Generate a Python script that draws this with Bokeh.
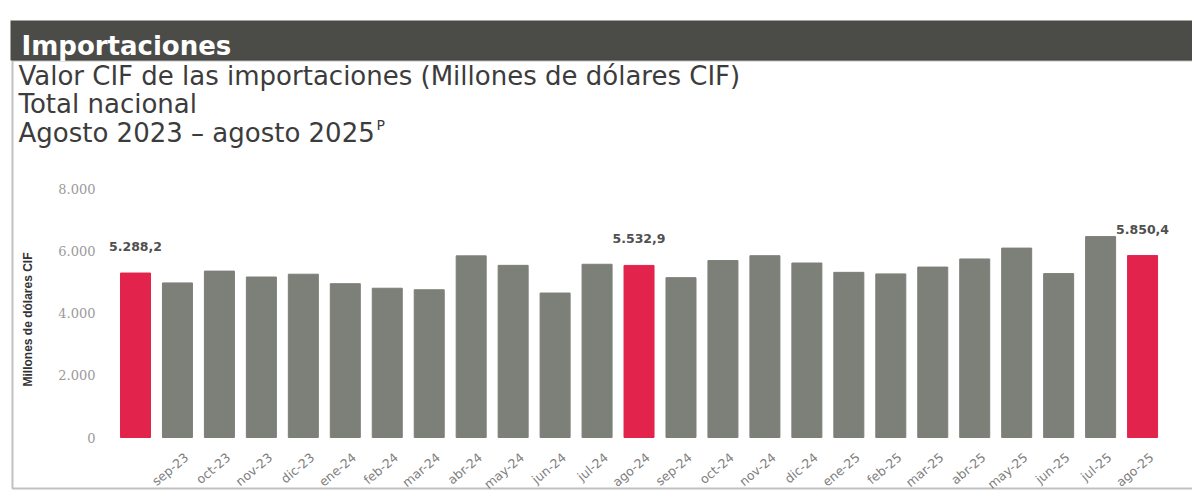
from bokeh.plotting import figure
from bokeh.models import ColumnDataSource, Label, LabelSet, BoxAnnotation, Range1d
from bokeh.core.properties import value
from bokeh.embed import file_html
from bokeh.resources import INLINE
import math

months = ["ago-23", "sep-23", "oct-23", "nov-23", "dic-23", "ene-24", "feb-24", "mar-24",
          "abr-24", "may-24", "jun-24", "jul-24", "ago-24", "sep-24", "oct-24", "nov-24",
          "dic-24", "ene-25", "feb-25", "mar-25", "abr-25", "may-25", "jun-25", "jul-25", "ago-25"]
valores = [5288.2, 4970, 5350, 5160, 5250, 4945, 4800, 4750,
           5840, 5535, 4645, 5570, 5532.9, 5140, 5690, 5845,
           5610, 5310, 5260, 5480, 5740, 6090, 5270, 6460, 5850.4]
destacados = ["ago-23", "ago-24", "ago-25"]
x_labels = [""] + months[1:]          # first month's label is not shown in the source
y_ticks = [0, 2000, 4000, 6000, 8000]
y_tick_labels = ["0", "2.000", "4.000", "6.000", "8.000"]

GRAY = "#7d7f79"
RED = "#e2244d"
DARK = "#4b4b48"
TEXT = "#3c3c3c"


def fmt(v):
    s = f"{v:,.1f}"
    return s.replace(",", "X").replace(".", ",").replace("X", ".")


idx = list(range(len(months)))
colors = [RED if m in destacados else GRAY for m in months]
src = ColumnDataSource(dict(i=idx, m=months, v=valores, c=colors, xl=x_labels,
                            zero=[0] * len(months)))
lab_src = ColumnDataSource(dict(
    i=[i for i, m in zip(idx, months) if m in destacados],
    v=[v for m, v in zip(months, valores) if m in destacados],
    t=[fmt(v) for m, v in zip(months, valores) if m in destacados],
))
tick_src = ColumnDataSource(dict(y=y_ticks, t=y_tick_labels))

W, H = 1192, 497
p = figure(width=W, height=H, x_range=Range1d(-3.217, 25.19), y_range=Range1d(-1929, 14051),
           output_backend="svg", toolbar_location=None,
           x_axis_location=None, y_axis_location=None,
           min_border=0, min_border_left=0, min_border_right=0,
           min_border_top=0, min_border_bottom=0)
p.title.visible = False
p.outline_line_color = None
p.grid.visible = False

# bars
p.vbar(x="i", top="v", width=0.715, color="c", source=src)

# value labels on highlighted bars
p.add_layout(LabelSet(x="i", y="v", text="t", source=lab_src, y_offset=22,
                      text_align="center", text_baseline="bottom",
                      text_font=value("DejaVu Sans"), text_font_size="12.5px",
                      text_font_style="bold", text_color="#505050"))

# category labels (x axis)
p.add_layout(LabelSet(x="i", y="zero", text="xl", source=src, x_offset=9, y_offset=-18,
                      angle=0.70, text_align="right", text_baseline="middle",
                      text_font=value("DejaVu Sans"), text_font_size="12.5px",
                      text_color="#808080"))

# value axis labels
p.add_layout(LabelSet(x=95, y="y", text="t", source=tick_src, x_units="screen",
                      text_align="right", text_baseline="middle",
                      text_font=value("DejaVu Serif"), text_font_size="13px",
                      text_color="#9a9a9a"))
p.add_layout(Label(x=27, y=178, x_units="screen", y_units="screen",
                   text="Millones de dólares CIF", angle=math.pi / 2,
                   text_align="center", text_baseline="middle",
                   text_font="Liberation Sans", text_font_style="bold",
                   text_font_size="12px", text_color="#333333"))

# header band and frame box
p.add_layout(BoxAnnotation(left=10, right=W, top=477, bottom=437,
                           left_units="screen", right_units="screen",
                           top_units="screen", bottom_units="screen",
                           fill_color=DARK, fill_alpha=1, line_color=None))
p.add_layout(BoxAnnotation(left=12, right=W + 20, top=437, bottom=9,
                           left_units="screen", right_units="screen",
                           top_units="screen", bottom_units="screen",
                           fill_alpha=0, line_color="#333333", line_width=2))

p.add_layout(Label(x=21, y=452, x_units="screen", y_units="screen", text="Importaciones",
                   text_font="DejaVu Sans", text_font_style="bold", text_font_size="26px",
                   text_color="white", text_baseline="alphabetic"))
for txt, yy in [("Valor CIF de las importaciones (Millones de dólares CIF)", 422),
                ("Total nacional", 394),
                ("Agosto 2023 – agosto 2025", 365)]:
    p.add_layout(Label(x=18, y=yy, x_units="screen", y_units="screen", text=txt,
                       text_font="DejaVu Sans", text_font_size="26px",
                       text_color=TEXT, text_baseline="alphabetic"))
p.add_layout(Label(x=376, y=373, x_units="screen", y_units="screen", text="P",
                   text_font="DejaVu Sans", text_font_size="14px",
                   text_color=TEXT, text_baseline="alphabetic"))

open("out.html", "w").write(file_html(p, INLINE))
